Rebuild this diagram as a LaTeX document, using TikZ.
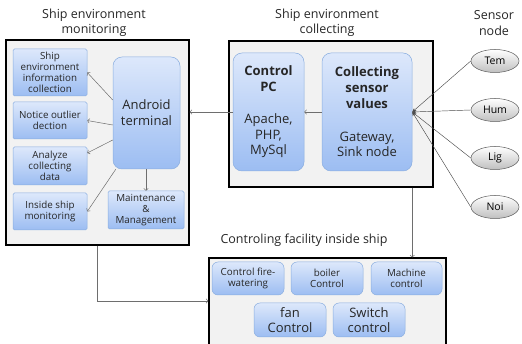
\documentclass[tikz,border=0pt]{standalone}
\usepackage{fontspec}
\setmainfont{Open Sans}
\usetikzlibrary{arrows.meta,shapes.geometric,calc}

\definecolor{framefill}{HTML}{F2F2F2}
\definecolor{boxtop}{HTML}{DDE8FB}
\definecolor{boxbot}{HTML}{9CBDF2}
\definecolor{boxline}{HTML}{8AAEE0}
\definecolor{linkgray}{HTML}{6E6E6E}

\tikzset{
  frame/.style={draw=black, line width=1.3pt, fill=framefill, inner sep=0pt},
  bluebox/.style={draw=boxline, line width=0.5pt, rounded corners=1.5pt,
    top color=boxtop, bottom color=boxbot, align=center, inner sep=1pt,
    font=\fontsize{9.8}{11.2}\selectfont, text=black!85},
  bigbox/.style={bluebox, rounded corners=9pt, font=\fontsize{13}{15.8}\selectfont},
  ctrlbox/.style={bluebox, rounded corners=6pt},
  sensor/.style={ellipse, draw=black!65, line width=0.5pt, top color=white,
    bottom color=black!25, minimum width=48pt, minimum height=23pt, inner sep=0pt,
    font=\fontsize{10.5}{12}\selectfont},
  title/.style={align=center, font=\fontsize{12.5}{15.5}\selectfont, text=black!85},
  link/.style={draw=linkgray, line width=0.5pt, -{Straight Barb[length=2pt,width=4.5pt]}},
  sensorlink/.style={draw=black!70, line width=0.45pt, -{Stealth[length=4pt,width=3.5pt]}}
}

\begin{document}
\begin{tikzpicture}[x=1pt,y=-1pt]
  \useasboundingbox (0,0) rectangle (522,344);

  % titles
  \node[title] (tmon) at (94,23) {Ship environment\\monitoring};
  \node[title] (tcol) at (327,23) {Ship environment\\collecting};
  \node[title] (tsen) at (494,23) {Sensor\\node};
  \node[title] (tfac) at (304,240) {Controling facility inside ship};

  % containers
  \node[frame, minimum width=183pt, minimum height=205pt] (mon) at (97.5,142.5) {};
  \node[frame, minimum width=204pt, minimum height=146pt] (col) at (331,114) {};
  \node[frame, minimum width=237pt, minimum height=100pt] (fac) at (327.5,308) {};

  % monitoring side
  \node[bluebox, minimum width=74pt, minimum height=47pt] (info) at (50,72.5)
    {Ship\\environment\\information\\collection};
  \node[bluebox, minimum width=74pt, minimum height=37pt] (outl) at (50,120.5)
    {Notice outlier\\dection};
  \node[bluebox, minimum width=74pt, minimum height=38pt] (anal) at (50,166)
    {Analyze\\collecting\\data};
  \node[bluebox, minimum width=74pt, minimum height=37pt] (insi) at (50,211.5)
    {Inside ship\\monitoring};
  \node[bigbox, minimum width=67pt, minimum height=112pt] (andr) at (146.5,113)
    {Android\\terminal};
  \node[bluebox, minimum width=76pt, minimum height=38pt] (main) at (146,210)
    {Maintenance\\\&\\Management};

  % collecting side
  \node[bigbox, minimum width=71pt, minimum height=118pt] (pc) at (268.5,112)
    {\textbf{Control}\\\textbf{PC}\\[16pt]Apache,\\PHP,\\MySql};
  \node[bigbox, minimum width=90pt, minimum height=118pt] (sink) at (367,112)
    {\textbf{Collecting}\\\textbf{sensor}\\\textbf{values}\\[17pt]Gateway,\\Sink node};

  % sensor nodes
  \node[sensor] (tem) at (495,61) {Tem};
  \node[sensor] (hum) at (495,110) {Hum};
  \node[sensor] (lig) at (495,158) {Lig};
  \node[sensor] (noi) at (495,207) {Noi};

  % controlled facilities
  \node[ctrlbox, minimum width=72pt, minimum height=33pt] (fire) at (248,278.5)
    {Control fire-\\watering};
  \node[ctrlbox, minimum width=72pt, minimum height=33pt] (boil) at (327,278.5)
    {boiler\\Control};
  \node[ctrlbox, minimum width=71pt, minimum height=33pt] (mach) at (406.5,278.5)
    {Machine\\control};
  \node[ctrlbox, minimum width=72pt, minimum height=34pt,
    font=\fontsize{13}{15.5}\selectfont] (fan) at (290,320) {fan\\Control};
  \node[ctrlbox, minimum width=72pt, minimum height=34pt,
    font=\fontsize{13}{15.5}\selectfont] (swit) at (369,320) {Switch\\control};

  % connectors inside monitoring
  \draw[link] ([yshift=13pt]andr.west) -- (info.east);
  \draw[link] ([yshift=-12pt]andr.west) -- (outl.east);
  \draw[link] ([yshift=-27pt]andr.west) -- ([yshift=13pt]anal.east);
  \draw[link] ([xshift=3pt]andr.south west) -- (insi.east);
  \draw[link] (andr.south -| main.north) -- (main.north);

  % data flow between groups
  \draw[link] (sink.west) -- (pc.east);
  \draw[link] (pc.west) -- (mon.east |- pc.west);
  \foreach \s in {tem,hum,lig,noi}
    \draw[sensorlink] (\s.west) -- (sink.east);
  \draw[link] (sink.east |- col.south) -- (sink.east |- fac.north);
  \draw[link] (mon.south) |- ([yshift=7pt]fac.west);
\end{tikzpicture}
\end{document}
